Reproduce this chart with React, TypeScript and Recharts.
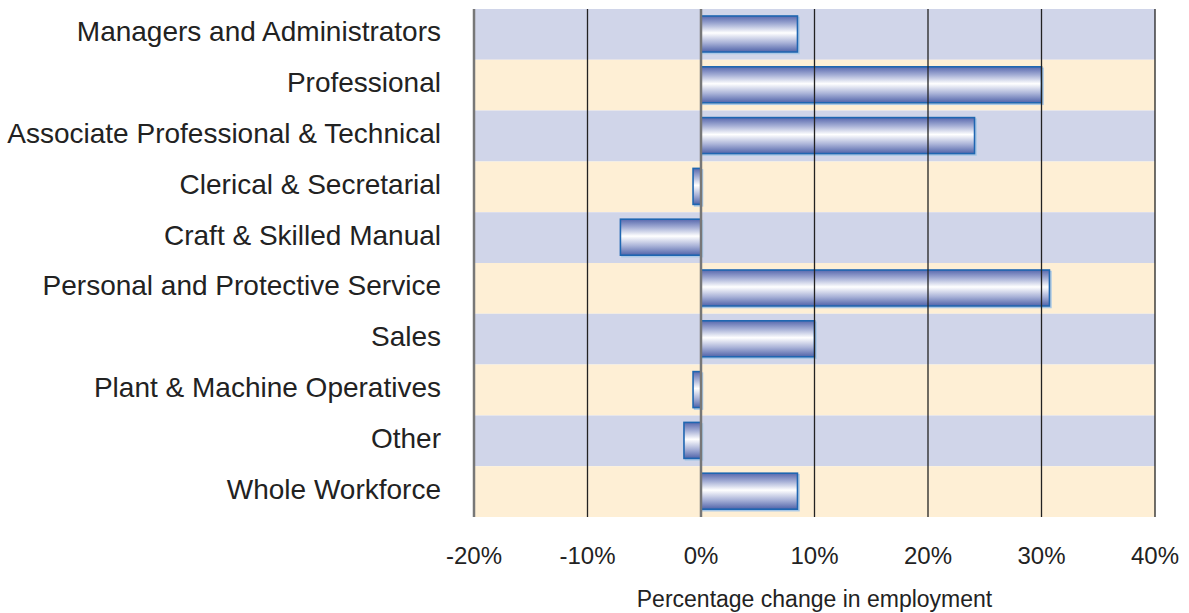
import React from 'react';
import { BarChart, Bar, XAxis, YAxis, ReferenceArea, ReferenceLine } from 'recharts';

const categories = [
  'Managers and Administrators',
  'Professional',
  'Associate Professional & Technical',
  'Clerical & Secretarial',
  'Craft & Skilled Manual',
  'Personal and Protective Service',
  'Sales',
  'Plant & Machine Operatives',
  'Other',
  'Whole Workforce',
];
const changes = [8.5, 30.0, 24.1, -0.7, -7.1, 30.7, 10.0, -0.7, -1.5, 8.5];
const xTicks = [-20, -10, 0, 10, 20, 30, 40];
const bandColors = ['#D0D5E9', '#FEEFD5'];

const data = categories.map((name, i) => ({ name, value: changes[i] }));

const FONT = '"Liberation Sans", Arial, sans-serif';

const BarShape = (props: any) => {
  let { x, y, width, height } = props;
  if (width < 0) { x = x + width; width = -width; }
  if (height < 0) { y = y + height; height = -height; }
  return (
    <g>
      <rect x={x + 1.5} y={y + 1.5} width={width} height={height} fill="none" stroke="#A9C8E6" strokeWidth={1.5} />
      <rect x={x} y={y} width={width} height={height} fill="url(#barGrad)" stroke="#1F66B1" strokeWidth={1.6} />
    </g>
  );
};

export default function App() {
  return (
    <div style={{ position: 'absolute', left: 0, top: 0, fontFamily: FONT }}>
      <BarChart
        width={1189}
        height={613}
        data={data}
        layout="vertical"
        margin={{ top: 9, right: 34, bottom: 0, left: 0 }}
        barSize={36}
      >
        <defs>
          <linearGradient id="barGrad" x1="0" y1="0" x2="0" y2="1">
            <stop offset="0%" stopColor="#5868AD" />
            <stop offset="22%" stopColor="#A2ACD4" />
            <stop offset="47%" stopColor="#FFFFFF" />
            <stop offset="74%" stopColor="#AAB3D8" />
            <stop offset="100%" stopColor="#5063A9" />
          </linearGradient>
        </defs>
        {categories.map((c, i) => (
          <ReferenceArea
            key={c}
            y1={c}
            y2={c}
            fill={bandColors[i % 2]}
            fillOpacity={1}
            stroke="none"
            ifOverflow="visible"
          />
        ))}
        {xTicks.map((t) => (
          <ReferenceLine
            key={t}
            x={t}
            stroke={t === 0 || t === -20 ? '#777' : '#222'}
            strokeWidth={t === 0 || t === -20 ? 2.5 : 1.3}
          />
        ))}
        <XAxis
          type="number"
          domain={[-20, 40]}
          ticks={xTicks}
          tickFormatter={(v: number) => `${v}%`}
          axisLine={false}
          tickLine={false}
          tickSize={0}
          tickMargin={30}
          height={96}
          tick={{ fill: '#222', fontSize: 24, fontFamily: FONT }}
          label={{ value: 'Percentage change in employment', position: 'insideBottom', offset: 6, fill: '#222', fontSize: 23, fontFamily: FONT }}
        />
        <YAxis
          type="category"
          dataKey="name"
          width={474}
          axisLine={false}
          tickLine={false}
          tickSize={0}
          tickMargin={33}
          interval={0}
          tick={{ fill: '#222', fontSize: 28, fontFamily: FONT, dy: -3 }}
        />
        <Bar dataKey="value" isAnimationActive={false} shape={<BarShape />} />
      </BarChart>
    </div>
  );
}
